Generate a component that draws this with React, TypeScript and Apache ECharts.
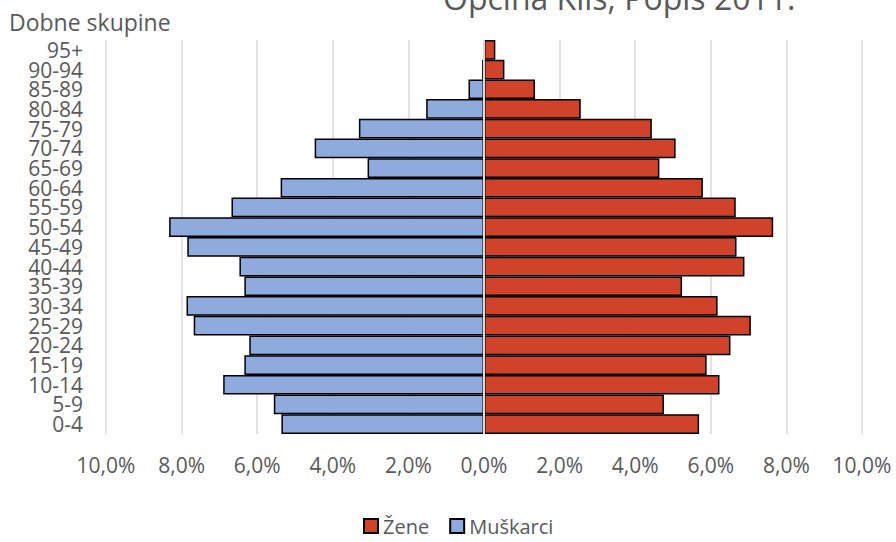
import React, { useEffect, useRef } from "react";
import * as echarts from "echarts";

const categories = ["0-4", "5-9", "10-14", "15-19", "20-24", "25-29", "30-34", "35-39", "40-44", "45-49", "50-54", "55-59", "60-64", "65-69", "70-74", "75-79", "80-84", "85-89", "90-94", "95+"];
const zene = [5.69, 4.76, 6.23, 5.89, 6.52, 7.06, 6.18, 5.24, 6.89, 6.68, 7.65, 6.66, 5.79, 4.64, 5.07, 4.44, 2.56, 1.35, 0.54, 0.30];
const muskarci = [5.36, 5.56, 6.90, 6.34, 6.21, 7.68, 7.87, 6.34, 6.47, 7.85, 8.33, 6.68, 5.38, 3.08, 4.48, 3.31, 1.53, 0.41, 0.05, 0];
const titleText = "Općina Klis, Popis 2011.";
const axisTitle = "Dobne skupine";

const FONT = "'Open Sans', sans-serif";
const GREY = "#595959";

export default function App() {
  const ref = useRef<HTMLDivElement>(null);
  useEffect(() => {
    document.body.style.margin = "0";
    const chart = echarts.init(ref.current!, null, { renderer: "svg" });
    chart.setOption({
      animation: false,
      textStyle: { fontFamily: FONT },
      graphic: [
        {
          type: "text",
          left: 443,
          top: -19,
          style: { text: titleText, font: `32px ${FONT}`, fill: GREY },
        },
        {
          type: "text",
          left: 9,
          top: 10,
          style: { text: axisTitle, font: `23px ${FONT}`, fill: GREY },
        },
      ],
      legend: {
        data: ["Žene", "Muškarci"],
        top: 511,
        left: 358,
        icon: "rect",
        itemWidth: 14,
        itemHeight: 14,
        itemGap: 20,
        textStyle: { fontSize: 20, color: GREY, fontFamily: FONT, padding: [0, 0, 0, 0] },
      },
      grid: { left: 106, right: 34, top: 40, bottom: 108 },
      xAxis: {
        type: "value",
        min: -10,
        max: 10,
        interval: 2,
        axisLine: { show: false },
        axisTick: { show: false },
        splitLine: { show: true, lineStyle: { color: "#d9d9d9", width: 1.5 } },
        axisLabel: {
          color: GREY,
          fontSize: 21,
          fontFamily: FONT,
          margin: 20,
          formatter: (v: number) => Math.abs(v).toFixed(1).replace(".", ",") + "%",
        },
      },
      yAxis: {
        type: "category",
        data: categories,
        axisLine: { show: false },
        axisTick: { show: false },
        axisLabel: { color: GREY, fontSize: 21, lineHeight: 19, fontFamily: FONT, interval: 0, margin: 23 },
      },
      series: [
        {
          name: "Žene",
          type: "bar",
          data: zene,
          barCategoryGap: "0%",
          barGap: "-100%",
          itemStyle: { color: "#D0422A", borderColor: "#000", borderWidth: 1.5 },
          markLine: {
            silent: true,
            symbol: "none",
            label: { show: false },
            lineStyle: { color: "#d9d9d9", width: 2, type: "solid" },
            data: [{ xAxis: 0 }],
          },
        },
        {
          name: "Muškarci",
          type: "bar",
          data: muskarci.map((v) => -v),
          barCategoryGap: "0%",
          barGap: "-100%",
          itemStyle: { color: "#8FAADC", borderColor: "#000", borderWidth: 1.5 },
        },
      ],
    });
    return () => chart.dispose();
  }, []);
  return <div ref={ref} style={{ width: 896, height: 542 }} />;
}
